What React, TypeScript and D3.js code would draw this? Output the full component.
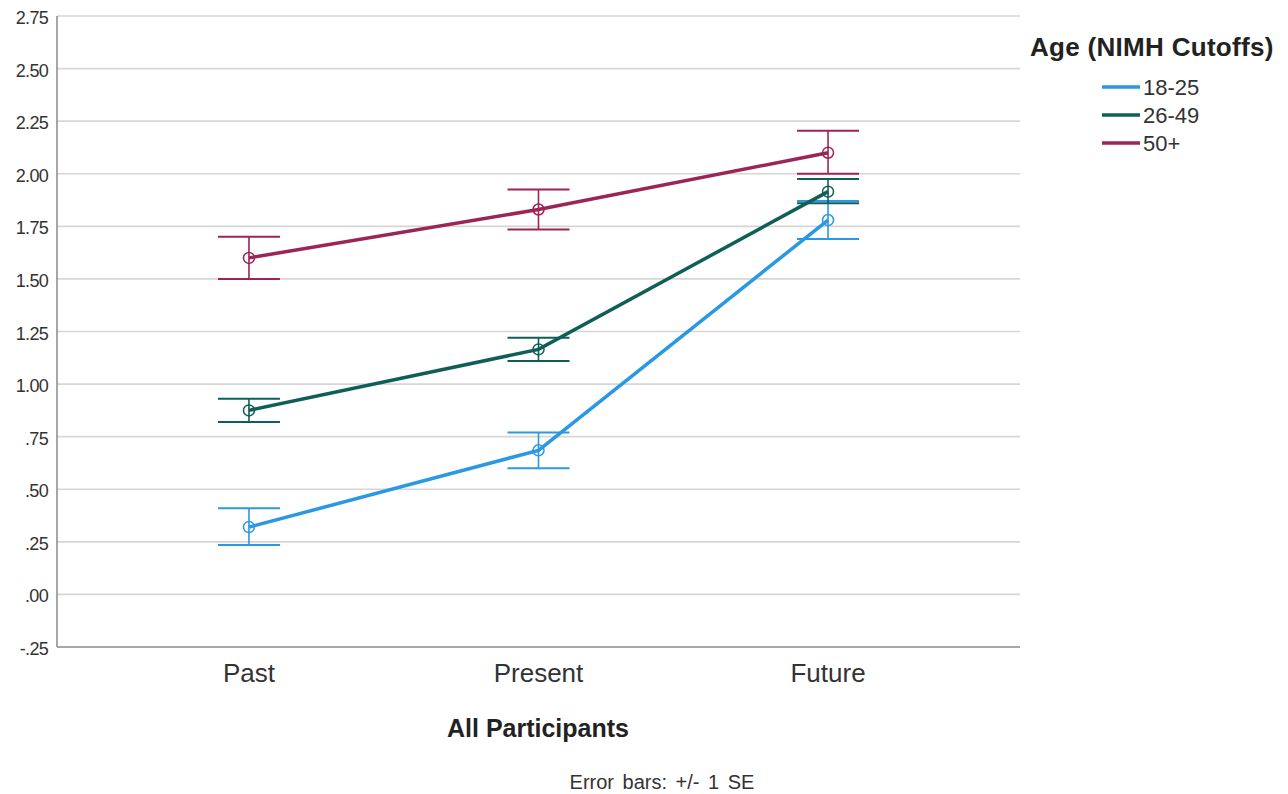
import React, { useEffect, useRef } from "react";
import * as d3 from "d3";

const categories = ["Past", "Present", "Future"];
const groups = ["18-25", "26-49", "50+"];
const colors = ["#2a98e2", "#0f5f58", "#9c2558"];
const means = [
  [0.32, 0.685, 1.78],
  [0.875, 1.165, 1.915],
  [1.6, 1.83, 2.1],
];
const errLow = [
  [0.235, 0.6, 1.69],
  [0.82, 1.11, 1.86],
  [1.5, 1.735, 2.0],
];
const errHigh = [
  [0.41, 0.77, 1.87],
  [0.93, 1.22, 1.975],
  [1.7, 1.925, 2.205],
];
const yTicks = [-0.25, 0, 0.25, 0.5, 0.75, 1.0, 1.25, 1.5, 1.75, 2.0, 2.25, 2.5, 2.75];

const fmt = (v: number) => {
  const s = v.toFixed(2);
  return s.replace(/^(-?)0\./, "$1.");
};

const App: React.FC = () => {
  const svgRef = useRef<SVGSVGElement | null>(null);

  useEffect(() => {
    const svg = d3.select(svgRef.current);
    svg.selectAll("*").remove();

    const left = 57;
    const right = 1020;
    const top = 16;
    const bottom = 647;
    const font = "'Liberation Sans', Arial, sans-serif";

    const x = d3.scalePoint().domain(categories).range([left, right]).padding(0.663);
    const y = d3.scaleLinear().domain([-0.25, 2.75]).range([bottom, top]);

    // gridlines
    svg
      .append("g")
      .selectAll("line")
      .data(yTicks.filter((t) => t > -0.25))
      .enter()
      .append("line")
      .attr("x1", left)
      .attr("x2", right)
      .attr("y1", (d) => y(d))
      .attr("y2", (d) => y(d))
      .attr("stroke", "#d6d6d6")
      .attr("stroke-width", 1.6);

    // axes lines
    svg
      .append("line")
      .attr("x1", left)
      .attr("x2", left)
      .attr("y1", top)
      .attr("y2", bottom)
      .attr("stroke", "#8a8a8a")
      .attr("stroke-width", 1.5);
    svg
      .append("line")
      .attr("x1", left)
      .attr("x2", right)
      .attr("y1", bottom)
      .attr("y2", bottom)
      .attr("stroke", "#8a8a8a")
      .attr("stroke-width", 1.5);

    // y tick labels
    svg
      .append("g")
      .selectAll("text")
      .data(yTicks)
      .enter()
      .append("text")
      .attr("x", 48)
      .attr("y", (d) => y(d) + 8)
      .attr("text-anchor", "end")
      .attr("font-family", font)
      .attr("font-size", 18)
      .attr("fill", "#333")
      .attr("letter-spacing", -0.7)
      .text((d) => fmt(d));

    // x labels
    svg
      .append("g")
      .selectAll("text")
      .data(categories)
      .enter()
      .append("text")
      .attr("x", (d) => x(d) || 0)
      .attr("y", 682)
      .attr("text-anchor", "middle")
      .attr("font-family", font)
      .attr("font-size", 26)
      .attr("fill", "#333")
      .text((d) => d);

    const capHalf = 31;
    groups.forEach((g, gi) => {
      const c = colors[gi];
      const grp = svg.append("g");
      // error bars
      categories.forEach((cat, ci) => {
        const cx = x(cat) || 0;
        grp
          .append("line")
          .attr("x1", cx)
          .attr("x2", cx)
          .attr("y1", y(errLow[gi][ci]))
          .attr("y2", y(errHigh[gi][ci]))
          .attr("stroke", c)
          .attr("stroke-width", 1.6);
        [errLow[gi][ci], errHigh[gi][ci]].forEach((v) => {
          grp
            .append("line")
            .attr("x1", cx - capHalf)
            .attr("x2", cx + capHalf)
            .attr("y1", y(v))
            .attr("y2", y(v))
            .attr("stroke", c)
            .attr("stroke-width", 2);
        });
      });
      const line = d3
        .line<number>()
        .x((_, i) => x(categories[i]) || 0)
        .y((d) => y(d));
      grp
        .append("path")
        .attr("d", line(means[gi]) || "")
        .attr("fill", "none")
        .attr("stroke", c)
        .attr("stroke-width", 3.5);
      grp
        .selectAll("circle")
        .data(means[gi])
        .enter()
        .append("circle")
        .attr("cx", (_, i) => x(categories[i]) || 0)
        .attr("cy", (d) => y(d))
        .attr("r", 5.5)
        .attr("fill", "none")
        .attr("stroke", c)
        .attr("stroke-width", 1.5);
    });

    // axis title
    svg
      .append("text")
      .attr("x", 538)
      .attr("y", 737)
      .attr("text-anchor", "middle")
      .attr("font-family", font)
      .attr("font-size", 25)
      .attr("font-weight", "bold")
      .attr("fill", "#222")
      .text("All Participants");

    svg
      .append("text")
      .attr("x", 662)
      .attr("y", 789)
      .attr("text-anchor", "middle")
      .attr("font-family", font)
      .attr("font-size", 20)
      .attr("fill", "#333")
      .attr("word-spacing", 3)
      .text("Error bars: +/- 1 SE");

    // legend
    svg
      .append("text")
      .attr("x", 1030)
      .attr("y", 56)
      .attr("font-family", font)
      .attr("font-size", 26)
      .attr("font-weight", "bold")
      .attr("fill", "#222")
      .attr("letter-spacing", 0.3)
      .text("Age (NIMH Cutoffs)");

    const lg = svg
      .append("g")
      .selectAll("g")
      .data(groups)
      .enter()
      .append("g")
      .attr("transform", (_, i) => `translate(1102, ${87 + i * 28})`);
    lg.append("line")
      .attr("x1", 0)
      .attr("x2", 38)
      .attr("stroke", (_, i) => colors[i])
      .attr("stroke-width", 3.5);
    lg.append("text")
      .attr("x", 41)
      .attr("y", 8)
      .attr("font-family", font)
      .attr("font-size", 22)
      .attr("fill", "#333")
      .text((d) => d);
  }, []);

  return (
    <svg
      ref={svgRef}
      width={1288}
      height={794}
      style={{ position: "absolute", left: 0, top: 0, background: "#fff" }}
    ></svg>
  );
};

export default App;
